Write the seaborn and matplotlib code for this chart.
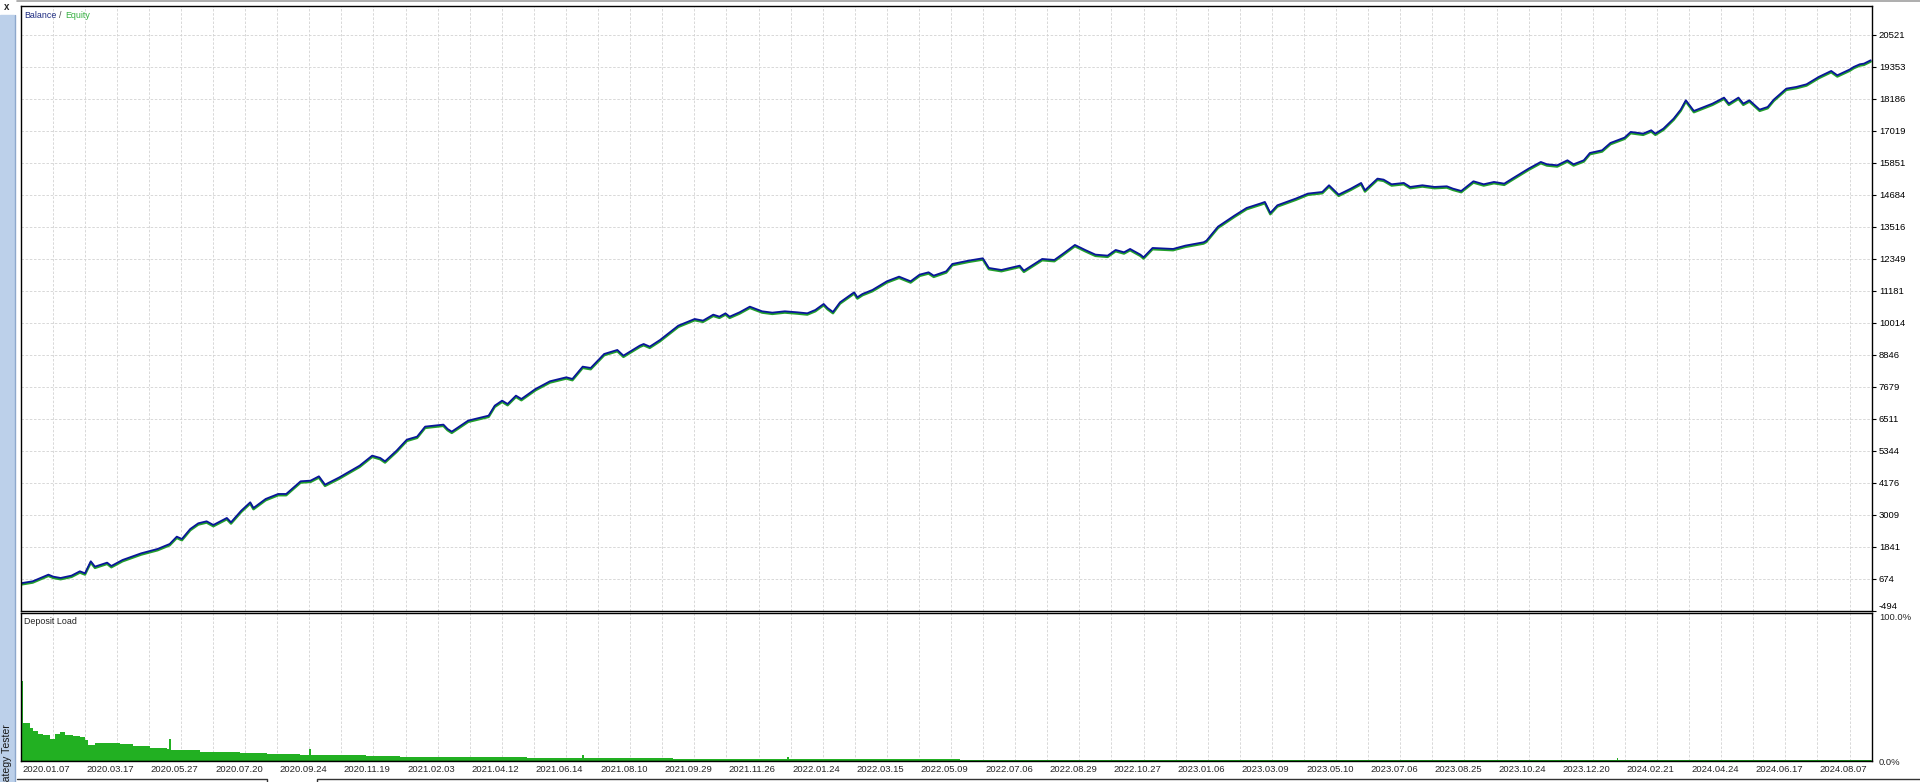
import pandas as pd
import matplotlib.pyplot as plt
import matplotlib.transforms as mtransforms
from matplotlib.patches import Rectangle
from matplotlib.lines import Line2D
import seaborn as sns

# balance curve; x is measured in chart grid steps (one vertical grid line per step)
bal_x = [0.00, 0.38, 0.87, 1.02, 1.25, 1.59, 1.85, 2.01, 2.19, 2.32, 2.70, 2.83, 3.18, 3.76,
         4.27, 4.65, 4.87, 5.03, 5.29, 5.54, 5.80, 6.01, 6.43, 6.56, 6.88, 7.16, 7.26, 7.64,
         8.03, 8.28, 8.73, 9.04, 9.30, 9.49, 9.94, 10.57, 10.96, 11.21, 11.36, 11.72, 12.04,
         12.36, 12.61, 13.18, 13.31, 13.44, 13.95, 14.59, 14.78, 15.01, 15.18, 15.44, 15.61,
         16.05, 16.50, 17.01, 17.20, 17.52, 17.77, 18.19, 18.60, 18.79, 19.30,
         19.42, 19.61, 19.93, 20.50, 21.01, 21.27, 21.59, 21.78, 21.97, 22.10, 22.41, 22.73,
         23.11, 23.43, 23.82, 24.20, 24.52, 24.77, 25.03, 25.15, 25.32, 25.54, 25.98, 26.08,
         26.24, 26.55, 27.00, 27.38, 27.74, 28.02, 28.30, 28.46, 28.85, 29.04, 29.55, 29.99,
         30.18, 30.57, 31.14, 31.27, 31.84, 32.22, 32.48, 32.86, 33.18, 33.50, 33.88, 34.13,
         34.39, 34.58, 34.90, 35.00, 35.28, 35.92, 36.30, 36.87, 36.96, 37.32, 37.83, 38.21,
         38.66, 38.78, 38.95, 39.17, 39.74, 40.12, 40.57, 40.78, 41.08, 41.46, 41.78, 41.90,
         42.29, 42.48, 42.73, 43.11, 43.31, 43.69, 44.07, 44.45, 44.64, 44.90, 45.28, 45.60,
         45.92, 46.24, 46.49, 47.00, 47.38, 47.57, 47.89, 48.21, 48.40, 48.72, 48.91, 49.29,
         49.55, 49.99, 50.18, 50.57, 50.82, 50.95, 51.20, 51.52, 51.74, 51.90, 52.15, 52.41,
         52.73, 53.09, 53.24, 53.54, 53.69, 53.88, 54.20, 54.45, 54.64, 55.03, 55.34, 55.66,
         56.04, 56.43, 56.62, 57.00, 57.13, 57.32, 57.45, 57.66]
bal_y = [516, 589, 832, 759, 710, 796, 954, 881, 1319, 1124, 1270, 1148, 1367, 1610,
         1768, 1951, 2218, 2133, 2498, 2705, 2778, 2644, 2900, 2741, 3167, 3471, 3264, 3593,
         3775, 3775, 4237, 4261, 4419, 4115, 4383, 4809, 5174, 5089, 4967, 5356, 5757,
         5867, 6232, 6305, 6147, 6049, 6451, 6633, 6998, 7180, 7058, 7362, 7241,
         7606, 7886, 8032, 7971, 8420, 8372, 8883, 9029, 8822, 9187,
         9247, 9150, 9393, 9916, 10159, 10099, 10317, 10244, 10366, 10244, 10403, 10609,
         10439, 10390, 10439, 10403, 10366, 10488, 10707, 10561, 10415, 10767, 11132, 10950,
         11072, 11218, 11534, 11704, 11534, 11777, 11862, 11740, 11899, 12166, 12288, 12373,
         12020, 11947, 12104, 11923, 12349, 12312, 12531, 12860, 12677, 12507, 12470, 12677,
         12592, 12714, 12507, 12409, 12750, 12714, 12835, 12957, 13017, 13528, 13929, 14209,
         14379, 14429, 14027, 14307, 14550, 14733, 14793, 15037, 14696, 14915, 15122, 14854,
         15280, 15243, 15073, 15122, 14976, 15037, 14976, 15000, 14915, 14830, 15183, 15073,
         15158, 15097, 15280, 15645, 15888, 15803, 15766, 15949, 15803, 15949, 16216, 16314,
         16581, 16776, 16983, 16922, 17044, 16922, 17104, 17469, 17797, 18138, 17749, 17870,
         18016, 18235, 18016, 18235, 18016, 18138, 17797, 17894, 18162, 18563, 18624, 18721,
         18989, 19208, 19050, 19257, 19353, 19451, 19475, 19597]

# deposit load, percent
load_x = [0.00, 0.08, 0.19, 0.30, 0.40, 0.55, 0.71, 0.92, 1.07, 1.23, 1.39, 1.65, 1.85, 2.01,
          2.10, 2.17, 2.32, 2.79, 3.10, 3.51, 4.03, 4.58, 4.62, 4.68, 4.76, 5.59, 6.42, 6.84,
          7.67, 8.19, 8.71, 9.00, 9.05, 9.74, 10.78, 11.82, 13.85, 15.77, 17.50, 17.55,
          18.43, 20.35, 22.44, 23.90, 23.95, 26.06, 27.97, 29.27, 33.00, 38.00, 44.00,
          49.75, 49.80, 52.00, 57.66]
load_pct = [54.0, 26.0, 26.0, 22.0, 20.0, 18.5, 17.6, 15.0, 18.0, 19.9, 17.6, 17.0, 16.4, 14.0,
            10.5, 10.7, 12.3, 12.3, 11.4, 10.3, 8.9, 8.0, 14.6, 7.5, 7.3, 6.2, 6.2, 5.7,
            5.0, 4.6, 4.3, 7.8, 4.1, 3.9, 3.4, 3.0, 2.5, 2.0, 3.9, 1.9,
            1.8, 1.6, 1.4, 3.0, 1.4, 1.4, 1.1, 1.0, 1.0, 0.9, 0.9,
            1.8, 0.9, 0.8, 0.8]

date_labels = ['2020.01.07', '2020.03.17', '2020.05.27', '2020.07.20', '2020.09.24', '2020.11.19',
               '2021.02.03', '2021.04.12', '2021.06.14', '2021.08.10', '2021.09.29', '2021.11.26',
               '2022.01.24', '2022.03.15', '2022.05.09', '2022.07.06', '2022.08.29', '2022.10.27',
               '2023.01.06', '2023.03.09', '2023.05.10', '2023.07.06', '2023.08.25', '2023.10.24',
               '2023.12.20', '2024.02.21', '2024.04.24', '2024.06.17', '2024.08.07']
y_labels = [-494, 674, 1841, 3009, 4176, 5344, 6511, 7679, 8846, 10014, 11181, 12349,
            13516, 14684, 15851, 17019, 18186, 19353, 20521]

sns.set_style("white")
plt.rcParams['font.family'] = ['Liberation Sans', 'DejaVu Sans']
fs = 6.8

fig = plt.figure(figsize=(19.2, 7.82), dpi=100)
ax = fig.add_axes([0.01068, 0.2187, 0.9643, 0.7737])
ax2 = fig.add_axes([0.01068, 0.02685, 0.9643, 0.1893])

df = pd.DataFrame({'x': bal_x, 'balance': bal_y})
eq_trans = mtransforms.offset_copy(ax.transData, fig=fig, x=0, y=-1.3, units='dots')
sns.lineplot(data=df, x='x', y='balance', ax=ax, color='#23a02c', lw=1.7,
             estimator=None, sort=False, transform=eq_trans)
sns.lineplot(data=df, x='x', y='balance', ax=ax, color='#0a169a', lw=1.3,
             estimator=None, sort=False)

ax2.fill_between(load_x, load_pct, step='post', color='#22b022', lw=0)
ax2.plot(load_x, [0] * len(load_x), color='#1c9a1c', lw=1.4)

grid_steps = list(range(0, 58))
tick_text = [date_labels[i // 2] if i % 2 == 0 else '' for i in grid_steps]
grid_kw = dict(color='#d2d2d2', linestyle=(0, (3, 2)), linewidth=0.6)

ax.set_xlim(0, 57.7)
ax.set_ylim(-494, 21579)
ax.set_xticks(grid_steps)
ax.set_xticklabels([])
ax.yaxis.tick_right()
ax.set_yticks(y_labels)
ax.set_yticklabels([str(v) for v in y_labels])
ax.tick_params(axis='y', right=True, length=3, width=0.8, pad=2, labelsize=fs, colors='black')
ax.tick_params(axis='x', length=0)
ax.grid(True, **grid_kw)
ax.get_yticklabels()[0].set_verticalalignment('bottom')
ax.set_xlabel('')
ax.set_ylabel('')

ax2.set_xlim(0, 57.7)
ax2.set_ylim(0, 100)
ax2.set_xticks(grid_steps)
ax2.set_xticklabels(tick_text)
ax2.yaxis.tick_right()
ax2.set_yticks([0, 100])
ax2.set_yticklabels(['0.0%', '100.0%'])
ax2.tick_params(axis='y', right=True, length=0, pad=5, labelsize=fs)
ax2.tick_params(axis='x', length=0, pad=3, labelsize=fs)
ax2.xaxis.grid(True, **grid_kw)
ax2.yaxis.grid(False)
ax2.get_yticklabels()[1].set_verticalalignment('top')

shift = mtransforms.ScaledTranslation(2 / 100, 0, fig.dpi_scale_trans)
for lab in ax2.get_xticklabels():
    lab.set_horizontalalignment('left')
    lab.set_transform(lab.get_transform() + shift)

for a in (ax, ax2):
    for s in a.spines.values():
        s.set_visible(True)
        s.set_color('black')
        s.set_linewidth(1.0)

W, H = 1920, 782
def fx(px):
    return px / W
def fy(py):
    return 1 - py / H

fig.text(fx(24), fy(15), 'Balance', color='#1c2a80', fontsize=6.4, va='center')
fig.text(fx(59), fy(15), '/', color='#444444', fontsize=6.4, va='center')
fig.text(fx(65), fy(15), 'Equity', color='#35b040', fontsize=6.4, va='center')
fig.text(fx(24), fy(622), 'Deposit Load', color='#222222', fontsize=6.4, va='center')

# side panel of the terminal window
fig.patches.append(Rectangle((0, 0), fx(14), fy(15), transform=fig.transFigure,
                             color='#bcd0ea', zorder=0))
fig.lines.append(Line2D([fx(14.5), fx(14.5)], [0, fy(15)], transform=fig.transFigure,
                        color='#8ea8cc', lw=1))
fig.text(fx(4), fy(7), 'x', fontsize=7, fontweight='bold', ha='left', va='center')
fig.text(fx(7), fy(724), 'Strategy Tester', rotation=90, fontsize=7.6, color='#1a1a1a',
         ha='center', va='top')

fig.lines.append(Line2D([fx(17), 1], [fy(1), fy(1)], transform=fig.transFigure,
                        color='#a0a0a0', lw=1.2))
fig.lines.append(Line2D([fx(17), fx(267), fx(267)], [fy(779), fy(779), 0],
                        transform=fig.transFigure, color='#333333', lw=1))
fig.lines.append(Line2D([fx(317), fx(317), 1], [0, fy(779), fy(779)],
                        transform=fig.transFigure, color='#333333', lw=1))

fig.savefig('out.png', dpi=100)
